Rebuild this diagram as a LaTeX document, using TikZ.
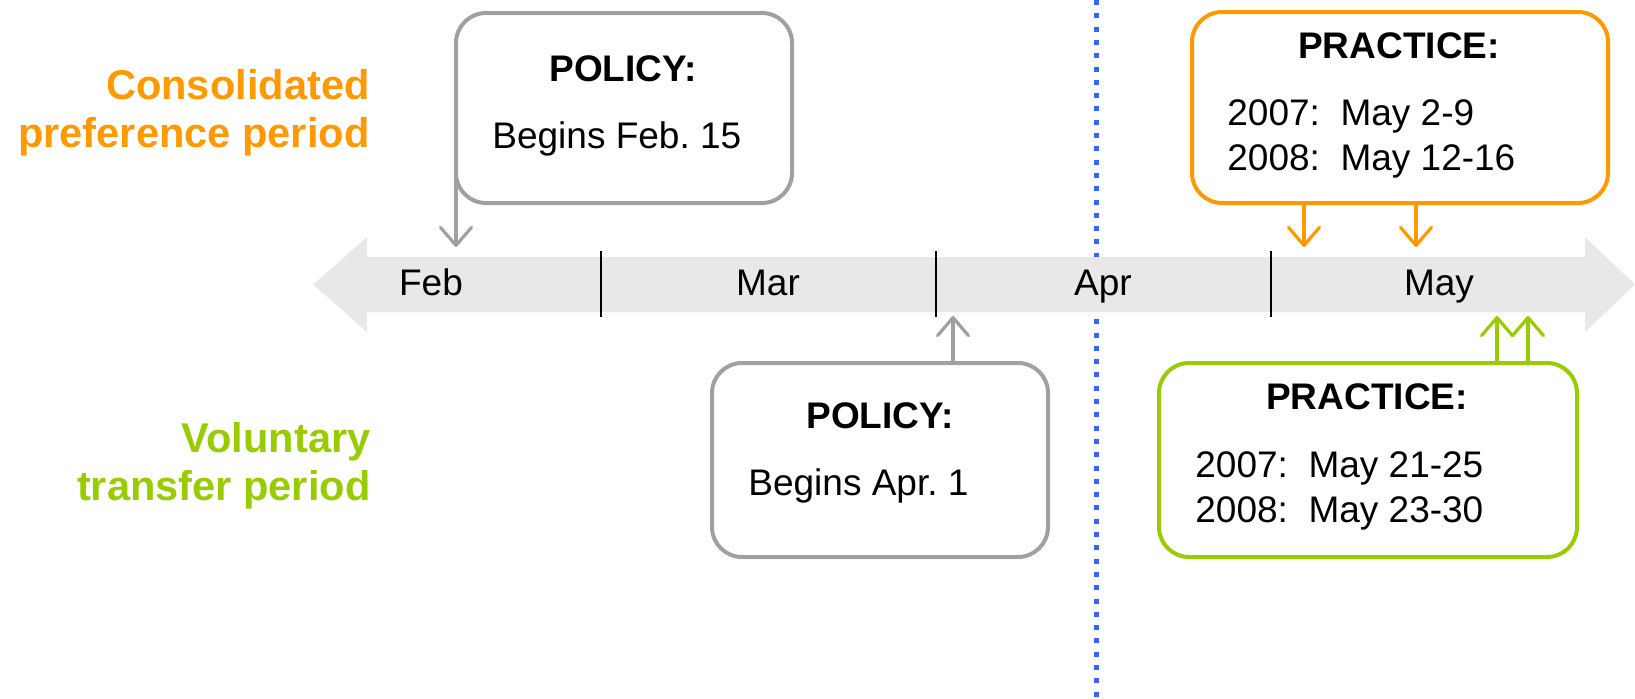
\documentclass[tikz,border=0pt]{standalone}
\usepackage{fontspec}
\setmainfont{Liberation Sans}
\usetikzlibrary{arrows.meta}
\definecolor{tlorange}{HTML}{FF9900}
\definecolor{tlgreen}{HTML}{99CC00}
\definecolor{tlgray}{HTML}{A0A0A0}
\definecolor{tlband}{HTML}{E8E8E8}
\definecolor{tlblue}{HTML}{3366FF}
\begin{document}
\begin{tikzpicture}[x=0.5pt, y=-0.5pt,
	box/.style={draw=#1, line width=2pt, rounded corners=15pt, fill=white, outer sep=0pt, inner sep=0pt},
	head/.style={anchor=base, inner sep=0pt, font=\fontsize{18.5}{22.5}\selectfont\bfseries},
	body/.style={anchor=base west, inner sep=0pt, align=left, font=\fontsize{18.5}{22.5}\selectfont},
	month/.style={anchor=base, inner sep=0pt, font=\fontsize{18.5}{22.5}\selectfont},
	side/.style={anchor=base east, inner sep=0pt, align=right, text=#1, font=\fontsize{20.8}{24}\selectfont\bfseries},
	pin/.style={draw=#1, line width=1.6pt, -{Straight Barb[length=9pt, width=15.5pt, round]}}]
	\useasboundingbox (0,0) rectangle (1635,698);
	
	%divider
	\draw[tlblue, line width=2.5pt, dash pattern=on 2.5pt off 4.15pt] (1096,0) -- (1096,698);
	
	%time band
	\fill[tlband] (313,284.5) -- (367,237) -- (367,257) -- (1585,257) -- (1585,237) -- (1635,284.5)
		-- (1585,332) -- (1585,312) -- (367,312) -- (367,332) -- cycle;
	\foreach \x in {601, 936, 1271}{
		\draw[line width=1pt] (\x,251)--(\x,317);
	}
	\node[month] (feb) at (431,295){Feb};
	\node[month] (mar) at (768,295){Mar};
	\node[month] (apr) at (1103,295){Apr};
	\node[month] (may) at (1439,295){May};
	
	%side labels (base = last line)
	\node[side=tlorange] (cpp) at (370,147){Consolidated\\preference period};
	\node[side=tlgreen] (vtp) at (371,500){Voluntary\\transfer period};
	
	%policy boxes
	\node[box=tlgray, minimum width=168pt, minimum height=95pt] (polfeb) at (624,108){};
	\node[head] (polfebhd) at (623,81){POLICY:};
	\node[body] (polfebtx) at (492,148){Begins Feb.\ 15};
	\node[box=tlgray, minimum width=168pt, minimum height=97pt] (polapr) at (880,460){};
	\node[head] (polaprhd) at (880,428){POLICY:};
	\node[body] (polaprtx) at (748,495){Begins Apr.\ 1};
	
	%practice boxes
	\node[box=tlorange, minimum width=208pt, minimum height=95.5pt] (praccpp) at (1400,107.5){};
	\node[head] (praccpphd) at (1399,58){PRACTICE:};
	\node[body] (praccpptx) at (1227,170){2007:\ \ May 2-9\\2008:\ \ May 12-16};
	\node[box=tlgreen, minimum width=209pt, minimum height=97pt] (pracvtp) at (1368,460){};
	\node[head] (pracvtphd) at (1367,409){PRACTICE:};
	\node[body] (pracvtptx) at (1195,522){2007:\ \ May 21-25\\2008:\ \ May 23-30};
	
	%dates on the band
	\coordinate (feb15) at (456,247);
	\coordinate (apr1) at (953,316);
	\coordinate (may2) at (1304,247);
	\coordinate (may12) at (1416,247);
	\coordinate (may21) at (1497,316);
	\coordinate (may23) at (1528,316);
	\draw[pin=tlgray] (polfeb.west) -- (feb15);
	\draw[pin=tlgray] (polapr.north -| apr1) -- (apr1);
	\draw[pin=tlorange] (praccpp.south -| may2) -- (may2);
	\draw[pin=tlorange] (praccpp.south -| may12) -- (may12);
	\draw[pin=tlgreen] (pracvtp.north -| may21) -- (may21);
	\draw[pin=tlgreen] (pracvtp.north -| may23) -- (may23);
\end{tikzpicture}
\end{document}
